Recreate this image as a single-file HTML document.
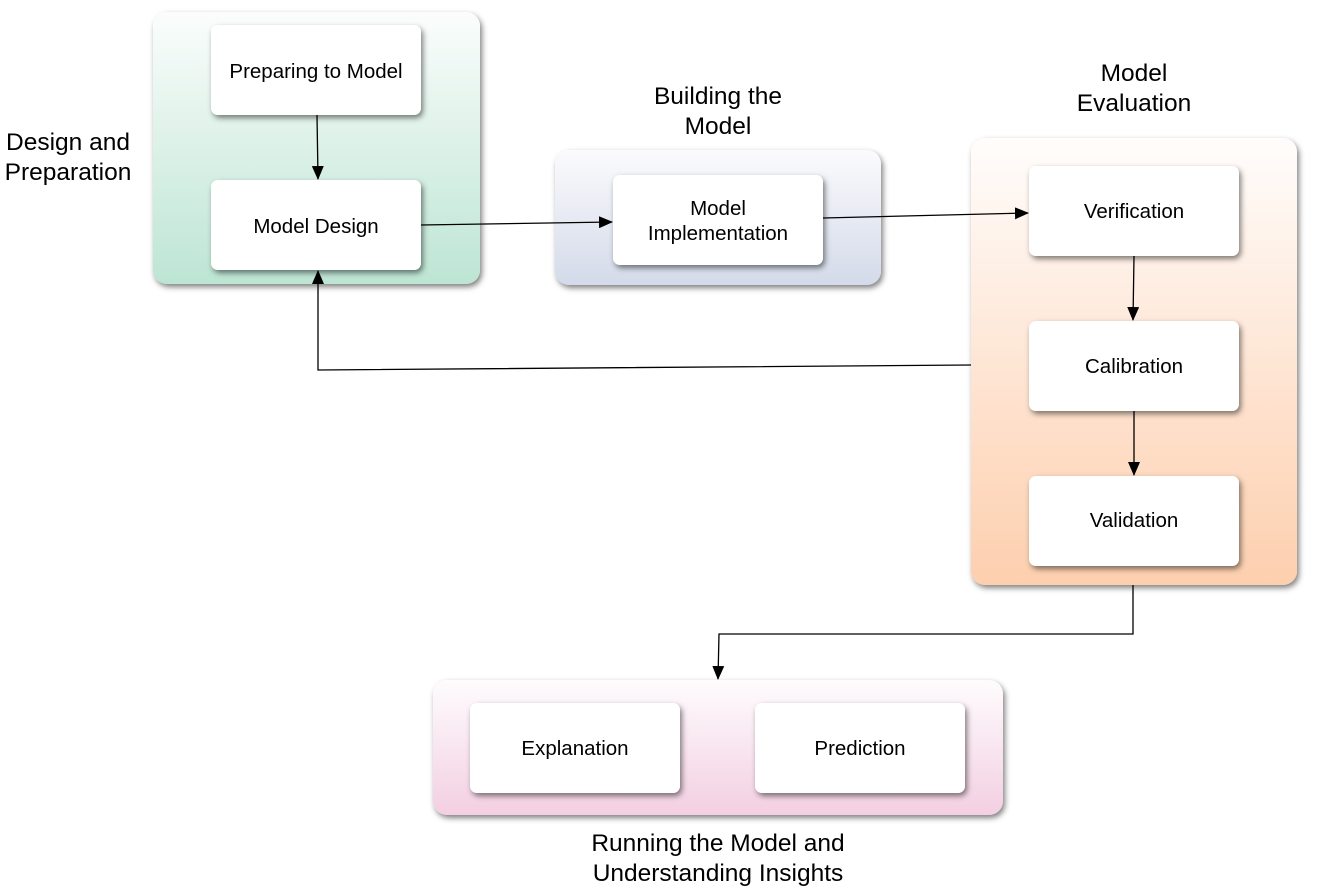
<!DOCTYPE html>
<html><head><style>body{margin:0;background:#fff}svg{display:block}text{font-family:"Liberation Sans",sans-serif;fill:#000}</style></head><body>
<svg width="1317" height="888" viewBox="0 0 1317 888" xmlns="http://www.w3.org/2000/svg">
<defs>
<linearGradient id="g1" x1="0" y1="0" x2="0" y2="1"><stop offset="0" stop-color="#fbfdfc"/><stop offset="1" stop-color="#bde5d4"/></linearGradient>
<linearGradient id="g2" x1="0" y1="0" x2="0" y2="1"><stop offset="0" stop-color="#fbfbfd"/><stop offset="1" stop-color="#d3dae9"/></linearGradient>
<linearGradient id="g3" x1="0" y1="0" x2="0" y2="1"><stop offset="0" stop-color="#fffdfc"/><stop offset="1" stop-color="#fdcfae"/></linearGradient>
<linearGradient id="g4" x1="0" y1="0" x2="0" y2="1"><stop offset="0" stop-color="#fefcfd"/><stop offset="1" stop-color="#f3cfe2"/></linearGradient>
<filter id="sh" x="-10%" y="-10%" width="130%" height="130%"><feDropShadow dx="2" dy="3" stdDeviation="3" flood-color="#000" flood-opacity="0.5"/></filter>
<marker id="ar" markerWidth="14" markerHeight="12" refX="13" refY="6" orient="auto" markerUnits="userSpaceOnUse"><path d="M0,0 L14,6 L0,12 z" fill="#000"/></marker>
</defs>
<g filter="url(#sh)">
<rect x="153" y="12" width="327" height="272" rx="14" fill="url(#g1)"/>
<rect x="555" y="150" width="326" height="135" rx="14" fill="url(#g2)"/>
<rect x="971" y="138" width="326" height="447" rx="14" fill="url(#g3)"/>
<rect x="433" y="680" width="570" height="135" rx="14" fill="url(#g4)"/>
</g>
<g filter="url(#sh)" fill="#fff">
<rect x="211" y="25" width="210" height="90" rx="7"/>
<rect x="211" y="180" width="210" height="90" rx="7"/>
<rect x="613" y="175" width="210" height="90" rx="7"/>
<rect x="1029" y="166" width="210" height="90" rx="7"/>
<rect x="1029" y="321" width="210" height="90" rx="7"/>
<rect x="1029" y="476" width="210" height="90" rx="7"/>
<rect x="470" y="703" width="210" height="90" rx="7"/>
<rect x="755" y="703" width="210" height="90" rx="7"/>
</g>
<g stroke="#000" stroke-width="1.3" fill="none" marker-end="url(#ar)">
<line x1="317" y1="115" x2="318" y2="179"/>
<line x1="421" y1="225" x2="612" y2="222"/>
<line x1="823" y1="218" x2="1028" y2="213"/>
<line x1="1134" y1="256" x2="1133" y2="320"/>
<line x1="1134" y1="411" x2="1134" y2="475"/>
<polyline points="971,365 318,370 318,271"/>
<polyline points="1133,585 1133,634 719,634 718,679"/>
</g>
<g font-size="20.5" text-anchor="middle">
<text x="316" y="78">Preparing to Model</text>
<text x="316" y="233">Model Design</text>
<text x="718" y="215">Model</text>
<text x="718" y="240">Implementation</text>
<text x="1134" y="218">Verification</text>
<text x="1134" y="373">Calibration</text>
<text x="1134" y="527">Validation</text>
<text x="575" y="755">Explanation</text>
<text x="860" y="755">Prediction</text>
</g>
<g font-size="24.5" text-anchor="middle">
<text x="68" y="150">Design and</text>
<text x="68" y="180">Preparation</text>
<text x="718" y="104">Building the</text>
<text x="718" y="134">Model</text>
<text x="1134" y="81">Model</text>
<text x="1134" y="111">Evaluation</text>
<text x="718" y="851">Running the Model and</text>
<text x="718" y="881">Understanding Insights</text>
</g>
</svg>
</body></html>
